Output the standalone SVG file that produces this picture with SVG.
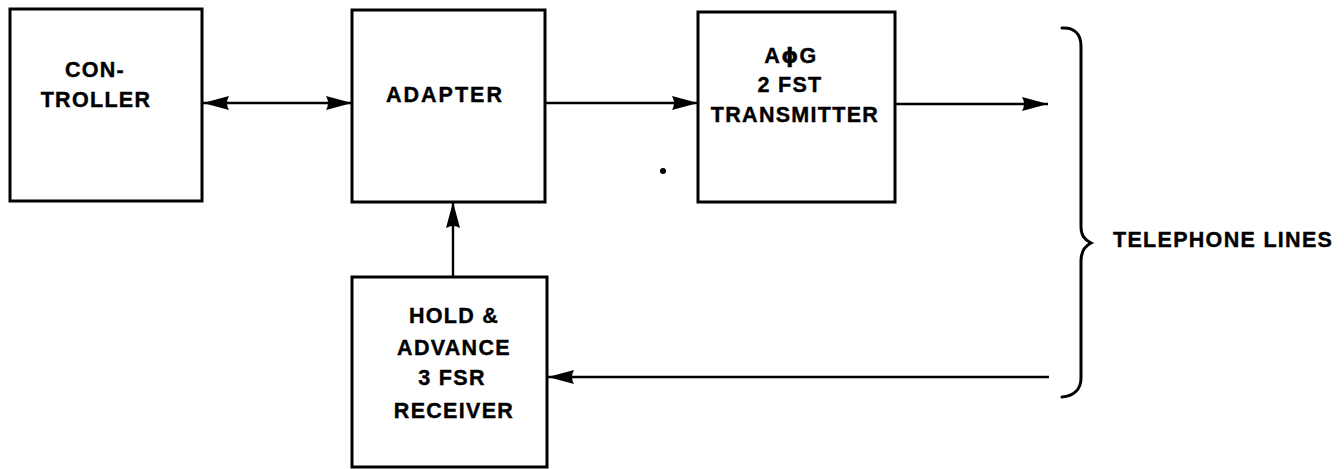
<svg xmlns="http://www.w3.org/2000/svg" width="1344" height="469" viewBox="0 0 1344 469">
<style>
.box{fill:none;stroke:#000;stroke-width:3}
.lbl{font-family:"Liberation Sans",Arial,sans-serif;font-weight:bold;font-size:21.5px;fill:#000;stroke:#000;stroke-width:0.4;text-anchor:middle;letter-spacing:1.3px}
.con{fill:none;stroke:#000;stroke-width:2.4}
.arr{marker-end:url(#ah)}
</style>
<defs>
<marker id="ah" markerUnits="userSpaceOnUse" markerWidth="27" markerHeight="16" refX="26" refY="8" orient="auto-start-reverse" viewBox="0 0 27 16">
<path d="M0,1 L26,8 L0,15 Q4,8 0,1 Z" fill="#000"/>
</marker>
</defs>
<rect width="1344" height="469" fill="#fff"/>
<g id="controller">
<rect class="box" x="10" y="9" width="192" height="192"/>
<text class="lbl" x="95" y="77">CON-</text>
<text class="lbl" x="96" y="107">TROLLER</text>
</g>
<g id="adapter">
<rect class="box" x="352" y="10" width="193" height="192"/>
<text class="lbl" x="445" y="102" style="letter-spacing:2px">ADAPTER</text>
</g>
<g id="transmitter">
<rect class="box" x="698" y="12" width="197" height="190"/>
<text class="lbl" x="791" y="63">A<tspan font-family="DejaVu Sans">ϕ</tspan>G</text>
<text class="lbl" x="790" y="92">2 FST</text>
<text class="lbl" x="795" y="122">TRANSMITTER</text>
</g>
<g id="receiver">
<rect class="box" x="352" y="277" width="195" height="190"/>
<text class="lbl" x="454" y="323">HOLD &amp;</text>
<text class="lbl" x="454" y="355">ADVANCE</text>
<text class="lbl" x="452" y="385">3 FSR</text>
<text class="lbl" x="454" y="418">RECEIVER</text>
</g>
<g id="telephone-lines">
<path d="M1062,28 C1073,27 1081,33 1081,46 L1081,226 C1081,236 1085,240 1091,243 C1085,246 1081,251 1081,261 L1081,378 C1081,390 1073,396 1062,397" fill="none" stroke="#000" stroke-width="3" stroke-linecap="round"/>
<text class="lbl" x="1113" y="247" style="text-anchor:start">TELEPHONE LINES</text>
</g>
<g id="connectors">
<line class="con arr" x1="203" y1="103" x2="352" y2="103" style="marker-start:url(#ah)"/>
<line class="con arr" x1="545" y1="103" x2="698" y2="103"/>
<line class="con arr" x1="895" y1="104" x2="1048" y2="104"/>
<line class="con arr" x1="453" y1="277" x2="453" y2="202"/>
<line class="con arr" x1="1049" y1="377" x2="548" y2="377"/>
</g>
<circle cx="663" cy="171" r="3" fill="#000"/>
</svg>
